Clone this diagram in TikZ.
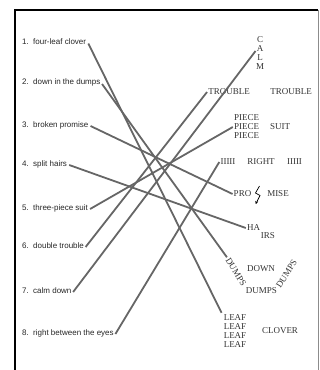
\documentclass[tikz,border=0pt]{standalone}
\usepackage{fontspec}
\setmainfont{Liberation Serif}
\setsansfont{Liberation Sans}
\begin{document}
\begin{tikzpicture}[x=1pt,y=-1pt,
  lbl/.style={font=\sffamily\fontsize{8}{9}\selectfont, text=black!85, inner sep=0pt, anchor=west},
  wrd/.style={font=\rmfamily\fontsize{9}{10}\selectfont, text=black!80, inner sep=1pt},
  conn/.style={draw=black!60, line width=1.8pt}]
\useasboundingbox (0,0) rectangle (320,370);
% frame
\draw[black, line width=1.2pt] (15,372) -- (15,10) -- (318,10);
\draw[black!45, line width=0.8pt] (318,10) -- (318,372);
% left labels
\foreach \n/\y in {1/42,2/82,3/125,4/164,5/208,6/246,7/291,8/333}
  \node[lbl] (n\n) at (22,\y) {\n.};
\node[lbl] (l1) at (33,42) {four-leaf clover};
\node[lbl] (l2) at (33,82) {down in the dumps};
\node[lbl] (l3) at (33,125) {broken promise};
\node[lbl] (l4) at (33,164) {split hairs};
\node[lbl] (l5) at (33,208) {three-piece suit};
\node[lbl] (l6) at (33,246) {double trouble};
\node[lbl] (l7) at (33,291) {calm down};
\node[lbl] (l8) at (33,333) {right between the eyes};
% right words
\node[wrd] (C) at (260,40) {C};
\node[wrd] (A) at (260,49) {A};
\node[wrd] (L) at (260,58) {L};
\node[wrd] (M) at (260,67) {M};
\node[wrd] (tr1) at (229,92) {TROUBLE};
\node[wrd] (tr2) at (291,92) {TROUBLE};
\node[wrd] (pa) at (246.5,118) {PIECE};
\node[wrd] (pb) at (246.5,127) {PIECE};
\node[wrd] (pc) at (246.5,136) {PIECE};
\node[wrd] (suit) at (280,127) {SUIT};
\node[wrd] (ia) at (228,162) {IIIII};
\node[wrd] (right) at (261,162) {RIGHT};
\node[wrd] (ib) at (294.5,162) {IIIII};
\node[wrd] (pro) at (242.5,194) {PRO};
\node[wrd] (mise) at (278,194) {MISE};
\node[wrd] (ha) at (253.5,228) {HA};
\node[wrd] (irs) at (268,236) {IRS};
\node[wrd, rotate=-58, inner sep=0.5pt] (dl) at (236,272) {DUMPS};
\node[wrd] (down) at (261,269) {DOWN};
\node[wrd] (dm) at (261.5,291) {DUMPS};
\node[wrd, rotate=57, inner sep=0.5pt] (dr) at (286.5,274) {DUMPS};
\node[wrd] (lfa) at (235,318) {LEAF};
\node[wrd] (lfb) at (235,327) {LEAF};
\node[wrd] (lfc) at (235,336) {LEAF};
\node[wrd] (lfd) at (235,345) {LEAF};
\node[wrd] (clover) at (280,331) {CLOVER};
% lightning bolt
\draw[black, line width=0.7pt, line join=miter] (259.5,186) -- (255.5,193) -- (260,195.5) -- (256,203.5);
\draw[black, line width=0.5pt] (256,203.5) -- (255.5,201) (256,203.5) -- (258,201.5);
% connectors
\draw[conn] ([xshift=2pt,yshift=-1.5pt]l1.east) -- ([xshift=-1pt,yshift=1pt]lfa.north west);
\draw[conn] ([xshift=1.5pt,yshift=-2pt]l2.east) -- ([xshift=-0.5pt,yshift=1pt]dl.west);
\draw[conn] ([xshift=2pt,yshift=-1pt]l3.east) -- (pro.west);
\draw[conn] ([xshift=2pt,yshift=-1pt]l4.east) -- (ha.west);
\draw[conn] ([xshift=2pt,yshift=-1pt]l5.east) -- (pb.west);
\draw[conn] ([xshift=1.5pt,yshift=-1pt]l6.east) -- (tr1.west);
\draw[conn] ([xshift=1.5pt,yshift=-1pt]l7.east) -- ([yshift=-2pt]A.west);
\draw[conn] ([xshift=1.5pt,yshift=-1pt]l8.east) -- (ia.west);
\end{tikzpicture}
\end{document}
